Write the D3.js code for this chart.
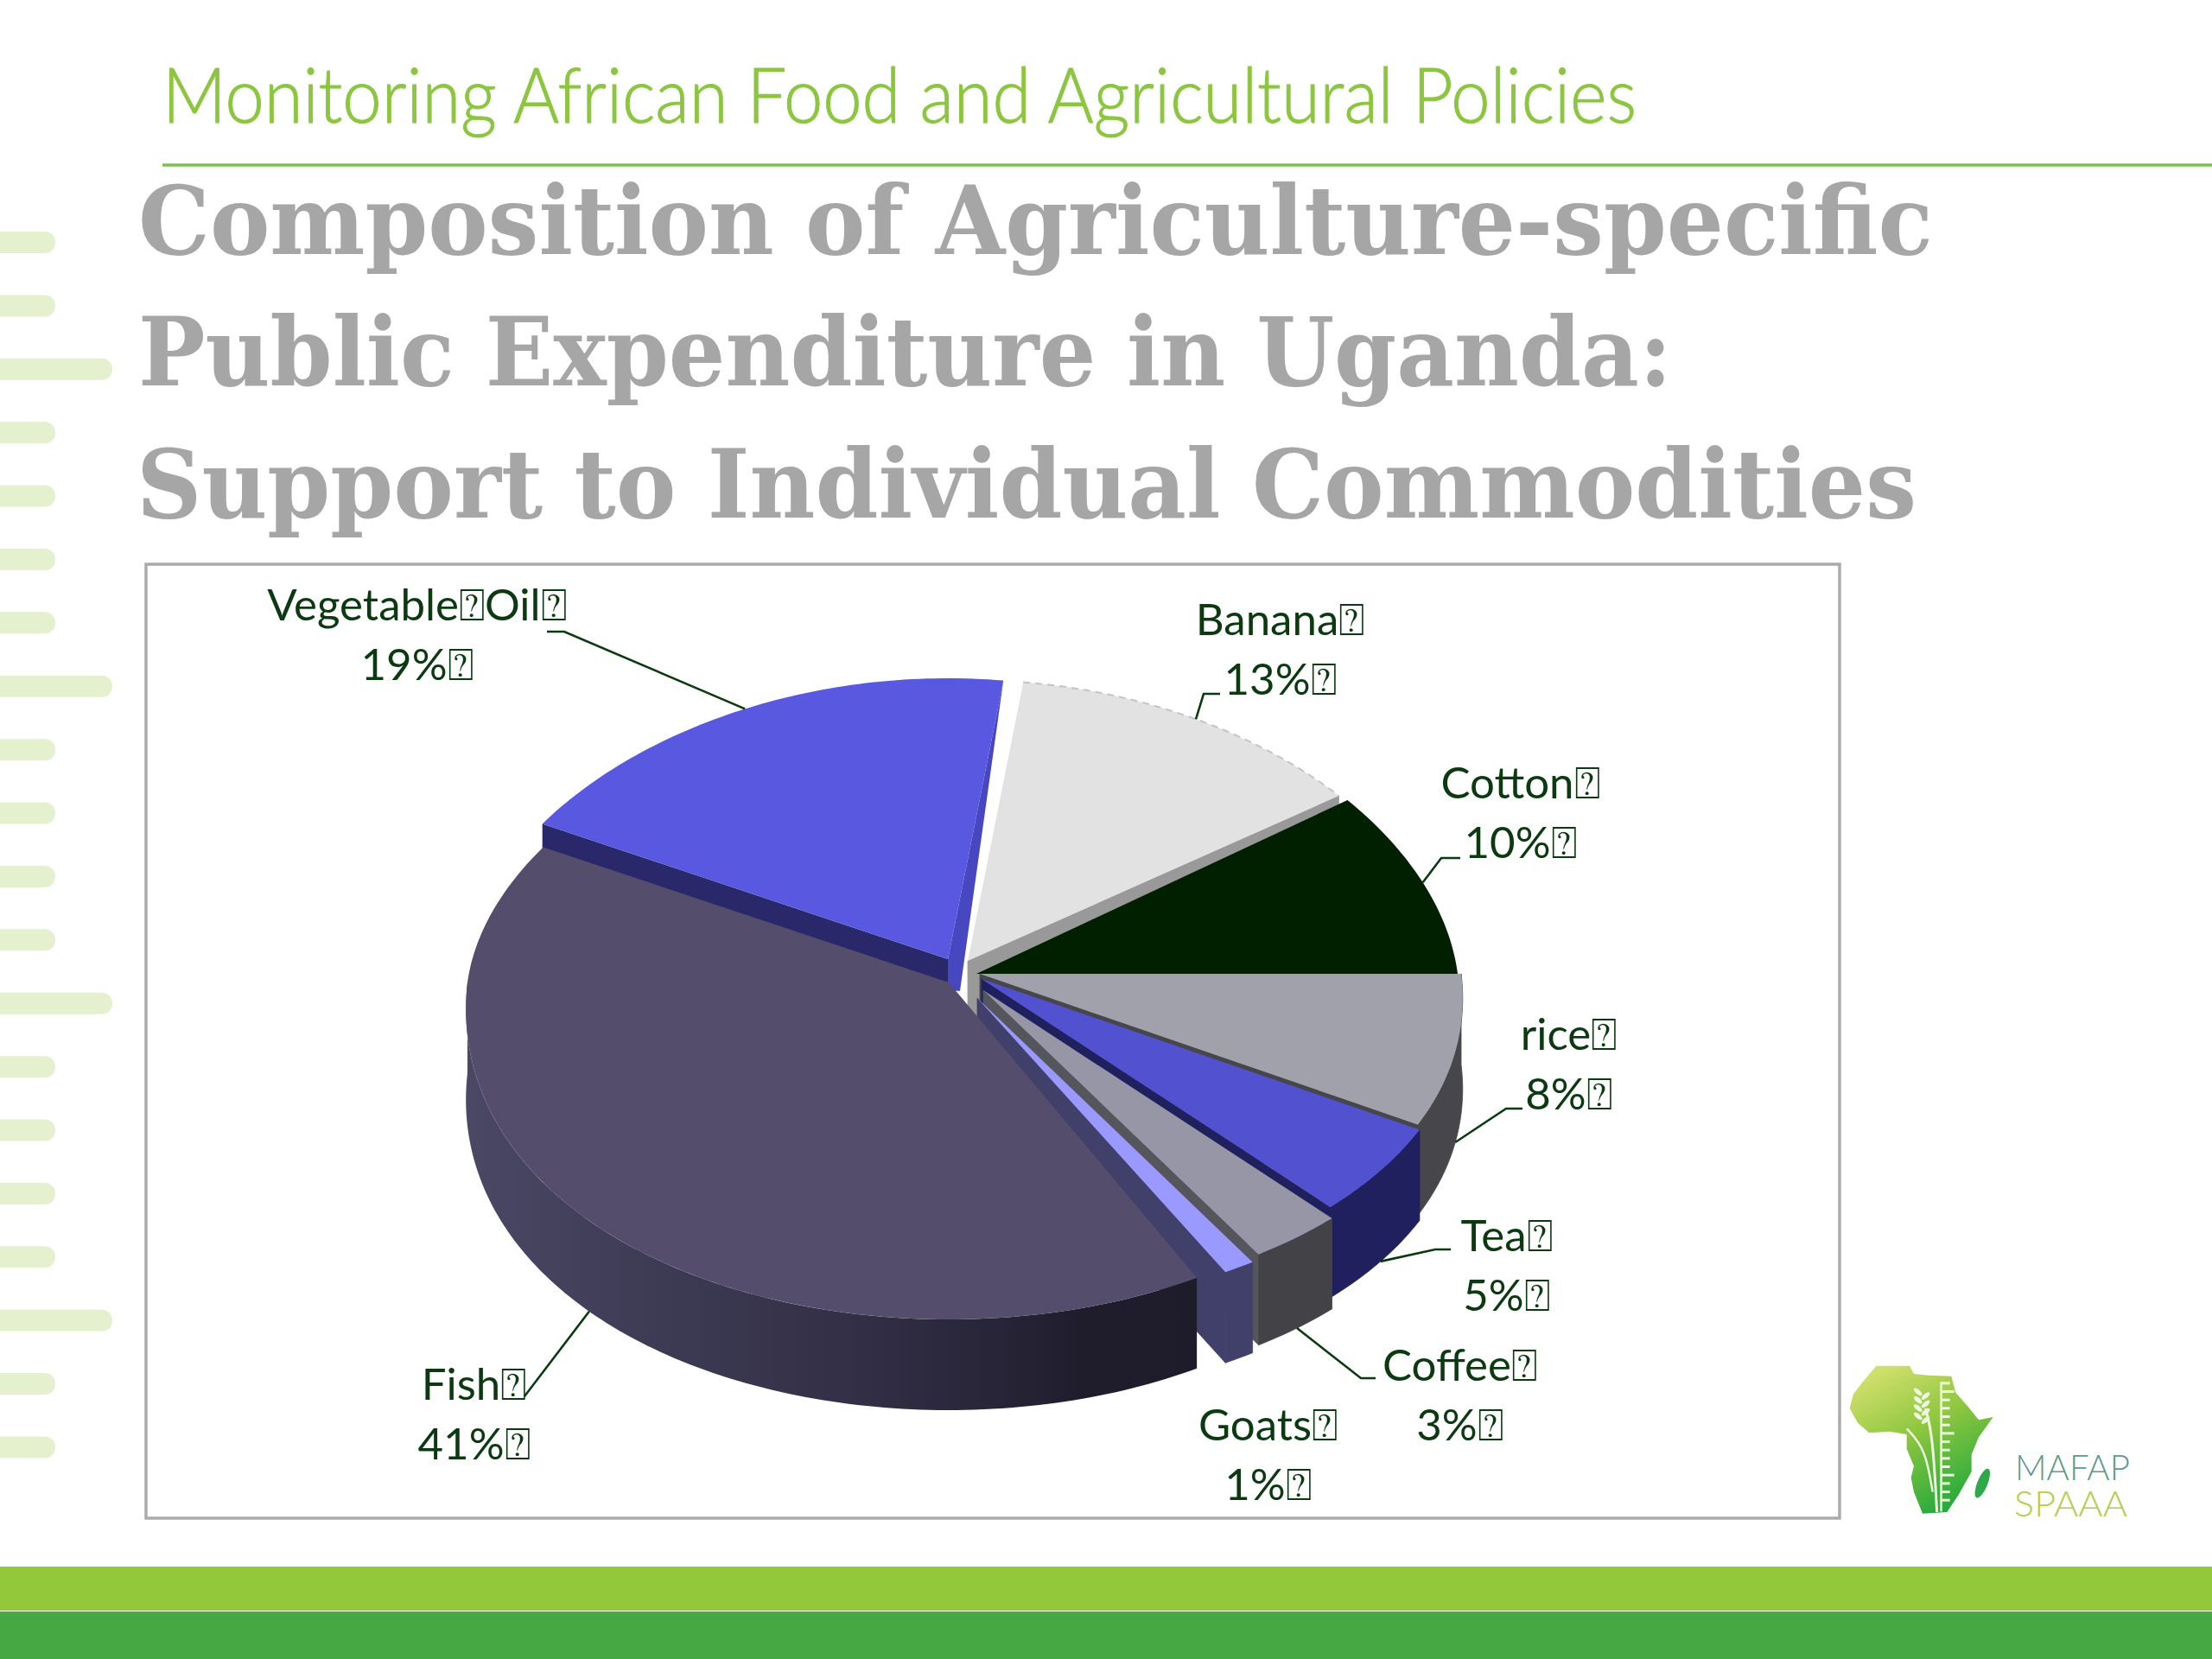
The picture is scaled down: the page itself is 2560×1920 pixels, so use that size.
<!DOCTYPE html>
<html><head><meta charset="utf-8">
<script src="https://cdn.jsdelivr.net/npm/d3@7"></script>
<style>html,body{margin:0;padding:0;background:#fff}svg{display:block}</style>
</head><body><svg id="c" width="2560" height="1920" xmlns="http://www.w3.org/2000/svg"></svg>
<script>
// ---------- data ----------
const categories = ["Banana","Cotton","rice","Tea","Coffee","Goats","Fish","Vegetable Oil"];
const shares     = [13,10,8,5,3,1,41,19];
const titleLines = ["Composition of Agriculture-specific","Public Expenditure in Uganda:","Support to Individual Commodities"];
const headerText = "Monitoring African Food and Agricultural Policies";

// ---------- style / layout ----------
const topColor  = {Banana:"#e2e2e2",Cotton:"#002000",rice:"#a1a1ab",Tea:"#5252d0",Coffee:"#9796a6",Goats:"#9999ff",Fish:"#544d6b","Vegetable Oil":"#5858e0"};
const wallColor = {rice:"#47474b",Tea:"#20205f",Coffee:"#434347",Goats:"#40406a",Fish:"url(#fishWall)"};
const cutEnd    = {Banana:"#999999",rice:"#47474b",Tea:"#20205f",Coffee:"#55555c",Goats:"#40406a"};
const apex = {Banana:[1120,1112],Cotton:[1130,1127],rice:[1134,1127],Tea:[1136,1133],Coffee:[1138,1146],Goats:[1131,1155],Fish:[1098,1137],"Vegetable Oil":[1097,1110]};
const labelAt = {Banana:[1482,735],Cotton:[1760,924],rice:[1816,1215],Tea:[1744,1448],Coffee:[1690,1598],Goats:[1468,1667],Fish:[549,1620],"Vegetable Oil":[483,718]};
const elbowAt = {Banana:[[1393,803],[1412,803]],Cotton:[[1668,993],[1690,993]],rice:[[1743,1283],[1762,1283]],Tea:[[1661,1446],[1679,1446]],Coffee:[[1575,1595],[1592,1595]],Fish:[[607,1616]],"Vegetable Oil":[[653,731],[633,731]]};
const Rx=557, ryBack=325, ryBackCotton=342, ryFront=362, ryFrontFish=390, persp=0.08, depth=105;
const rad=Math.PI/180, theta0=7.2*rad;
const tofu="\u2370", labelSize=51;

const svg=d3.select("#c");
const defs=svg.append("defs");
function grad(id,x1,y1,x2,y2,stops){const g=defs.append("linearGradient").attr("id",id).attr("gradientUnits","userSpaceOnUse").attr("x1",x1).attr("y1",y1).attr("x2",x2).attr("y2",y2);
 stops.forEach(s=>g.append("stop").attr("offset",s[0]).attr("stop-color",s[1]));}
grad("fishWall",537,0,1385,0,[[0,"#4a4864"],[0.25,"#3e3b55"],[0.6,"#2f2c42"],[0.85,"#1f1d2c"],[1,"#1e1c2a"]]);
grad("africa",2170,1590,2260,1750,[[0,"#cfdf6a"],[0.45,"#8cc63f"],[1,"#1fa83c"]]);

// ---------- page furniture ----------
const barIdx=d3.range(20), barY=d3.scaleLinear().domain([0,19]).range([280.5,1675]);
svg.selectAll("rect.tick").data(barIdx).join("rect").attr("x",-30).attr("y",i=>barY(i)-12.5)
 .attr("width",i=>i%5===2?160:94).attr("height",25).attr("rx",12).attr("fill","#e5f1ce");

svg.append("text").text(headerText).attr("x",188).attr("y",142).attr("textLength",1706).attr("lengthAdjust","spacingAndGlyphs")
 .attr("font-family","Lato").attr("font-weight",300).attr("font-size",88).attr("fill","#8cc63f").attr("stroke","#8cc63f").attr("stroke-width",1);
svg.append("line").attr("x1",188).attr("x2",2560).attr("y1",191).attr("y2",191).attr("stroke","#7cc24a").attr("stroke-width",3.5);

const titleFit=[[160,2077],[160,1775],[158,2060]];
svg.selectAll("text.title").data(titleLines).join("text").text(d=>d)
 .attr("x",(d,i)=>titleFit[i][0]).attr("y",(d,i)=>[294,446,599][i]).attr("textLength",(d,i)=>titleFit[i][1]).attr("lengthAdjust","spacingAndGlyphs")
 .attr("font-family","DejaVu Serif Condensed, DejaVu Serif").attr("font-weight",700).attr("font-size",110).attr("fill","#a6a6a6");

svg.append("rect").attr("x",169).attr("y",653).attr("width",1960).attr("height",1104).attr("fill","#fff").attr("stroke","#ababab").attr("stroke-width",3.5);

svg.append("rect").attr("x",0).attr("y",1813).attr("width",2560).attr("height",51).attr("fill","#93c83a");
svg.append("rect").attr("x",0).attr("y",1865).attr("width",2560).attr("height",55).attr("fill","#45a843");

// ---------- pie ----------
const pie=d3.pie().sort(null).startAngle(theta0).endAngle(theta0+2*Math.PI);
const slices=pie(shares).map((d,i)=>({name:categories[i],value:d.value,a0:d.startAngle,a1:d.endAngle}));
const byName=Object.fromEntries(slices.map(s=>[s.name,s]));
function project(s,t,drop=0){const [ax,ay]=apex[s.name],c=Math.cos(t),sn=Math.sin(t);
 const ry=c>0?(s.name==="Cotton"?ryBackCotton:ryBack):(s.name==="Fish"?ryFrontFish:ryFront);
 return [ax+sn*Rx*(1-persp*c),ay-c*ry+drop];}
const line=d3.line();
function arcPts(s,a,b,drop=0){const n=Math.max(4,Math.ceil((b-a)/rad));return d3.range(n+1).map(i=>project(s,a+(b-a)*i/n,drop));}
function topPath(s){return line([[...apex[s.name]],...arcPts(s,s.a0,s.a1)])+"Z";}
function wallPath(s){
 const a=Math.max(s.a0,90*rad),b=Math.min(s.a1,270*rad); if(b<=a) return null;
 return line([...arcPts(s,a,b),...arcPts(s,a,b,depth).reverse()])+"Z";}
function cutPath(s,t){const p=project(s,t),[ax,ay]=apex[s.name];return line([[ax,ay],p,[p[0],p[1]+depth],[ax,ay+depth]])+"Z";}

const gPie=svg.append("g");
function drawWalls(s){
 if(cutEnd[s.name]) gPie.append("path").attr("d",cutPath(s,s.a1)).attr("fill",cutEnd[s.name]).attr("stroke",cutEnd[s.name]).attr("stroke-width",.8);
 if(s.name==="Vegetable Oil"){
  gPie.append("path").attr("d",cutPath(s,s.a0)).attr("fill","#28286a");
  const p=project(s,s.a1),[ax,ay]=apex[s.name];
  gPie.append("path").attr("d",line([p,[ax,ay],[ax,ay+depth*.35],[ax+14,ay+depth*.35]])+"Z").attr("fill","#4747c0");
 }
 const w=wallPath(s); if(w&&wallColor[s.name]) gPie.append("path").attr("d",w).attr("fill",wallColor[s.name]).attr("stroke",s.name==="Fish"?"none":wallColor[s.name]).attr("stroke-width",.8);
}
function drawTop(s){gPie.append("path").attr("d",topPath(s)).attr("fill",topColor[s.name]);
 if(s.name==="Banana") gPie.append("path").attr("d",line(arcPts(s,s.a0,s.a1))).attr("fill","none").attr("stroke","#c4c4c4").attr("stroke-width",2).attr("stroke-dasharray","8 6");}
["Vegetable Oil","Banana","Cotton","rice","Tea","Coffee"].forEach(n=>{drawWalls(byName[n]);drawTop(byName[n]);});
drawWalls(byName.Goats);
drawWalls(byName.Fish);drawTop(byName.Fish);
drawTop(byName.Goats);

// ---------- labels & leaders ----------
const ink="#0c3a10";
slices.forEach(s=>{
 const mid=(s.a0+s.a1)/2, front=Math.cos(mid)<0;
 const el=elbowAt[s.name];
 if(el) svg.append("path").attr("d",line([project(s,mid,front?depth:0),...el])).attr("fill","none").attr("stroke",ink).attr("stroke-width",2.6);
 const [cx,by]=labelAt[s.name];
 const t=svg.append("text").attr("text-anchor","middle").attr("font-family","Lato").attr("font-size",labelSize).attr("fill",ink);
 const words=s.name.split(" ");
 t.append("tspan").attr("x",cx).attr("y",by).text(words[0]+tofu);
 if(words[1]) t.append("tspan").attr("dx",-1).text(words[1]+tofu);
 t.append("tspan").attr("x",cx).attr("y",by+69).text(s.value+"%"+tofu);
});

// ---------- logo ----------
const logoX=d3.scaleLinear().domain([0,460]).range([2100,2560]), logoY=d3.scaleLinear().domain([0,380]).range([1540,1920]);
const africa=[[215,122],[330,122],[345,150],[395,155],[475,158],[490,215],[530,260],[570,310],[620,300],[570,370],[545,430],[545,490],[500,570],[460,630],[375,635],[345,560],[335,510],[345,470],[320,410],[320,360],[260,350],[190,355],[150,320],[122,270],[135,220],[170,175]];
const lp=p=>[logoX(p[0]/3),logoY(p[1]/3)];
svg.append("path").attr("d",d3.line().curve(d3.curveLinearClosed)(africa.map(lp))).attr("fill","url(#africa)");
svg.append("ellipse").attr("cx",lp([583,530])[0]).attr("cy",lp([583,530])[1]).attr("rx",6).attr("ry",18).attr("transform",`rotate(22 ${lp([583,530])[0]} ${lp([583,530])[1]})`).attr("fill","#2fa84a");
svg.append("path").attr("d",d3.line().curve(d3.curveBasis)([[385,270],[410,360],[425,630]].map(lp))).attr("fill","none").attr("stroke","#eef7df").attr("stroke-width",3);
svg.append("path").attr("d",d3.line().curve(d3.curveBasis)([[320,340],[385,410],[410,560]].map(lp))).attr("fill","none").attr("stroke","#eef7df").attr("stroke-width",2.5);
svg.selectAll("rect.rung").data(d3.range(15)).join("rect").attr("x",lp([440,0])[0]).attr("y",i=>lp([0,178+i*29])[1]).attr("width",i=>i%5===1?15:10).attr("height",3).attr("fill","#eef7df");
svg.append("rect").attr("x",lp([436,0])[0]).attr("y",lp([0,178])[1]).attr("width",2.5).attr("height",150).attr("fill","#eef7df");
svg.selectAll("ellipse.grain").data(d3.range(8)).join("ellipse").attr("cx",i=>lp([i%2?395:350,205+i*14])[0]+(i%2?-4:4)).attr("cy",i=>lp([0,205+i*14])[1]).attr("rx",6).attr("ry",2.6).attr("fill","#eef7df").attr("transform",i=>{const c=lp([i%2?395:350,205+i*14]);return `rotate(${i%2?-40:40} ${c[0]} ${c[1]})`;});
svg.append("text").text("MAFAP").attr("x",2332).attr("y",1713).attr("font-family","Lato").attr("font-weight",300).attr("font-size",42).attr("textLength",133).attr("lengthAdjust","spacingAndGlyphs").attr("fill","#5f9a8c");
svg.append("text").text("SPAAA").attr("x",2331).attr("y",1755).attr("font-family","Lato").attr("font-weight",300).attr("font-size",42).attr("textLength",131).attr("lengthAdjust","spacingAndGlyphs").attr("fill","#b5cc4c");
</script></body></html>
